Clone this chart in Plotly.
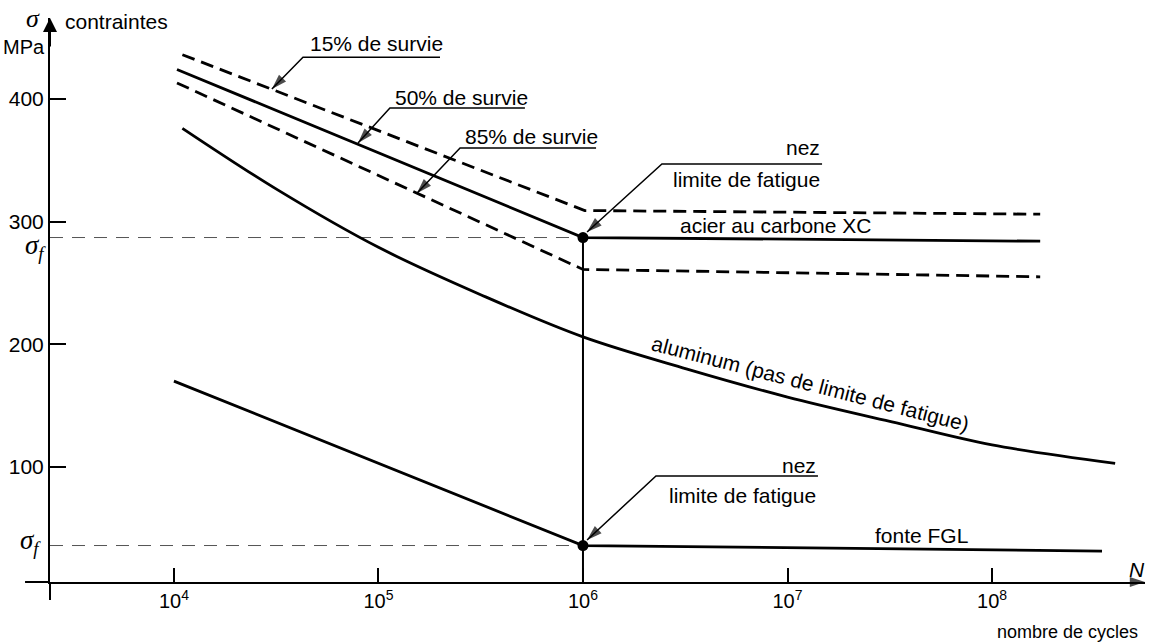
import math
import plotly.graph_objects as go

# ---------------- data ----------------
# steel XC, three survival probabilities (N cycles, stress MPa)
N_50 = [1.035e4, 1.0e6, 1.72e8]
S_50 = [424, 287, 284]
N_15 = [1.10e4, 1.02e6, 1.72e8]
S_15 = [436, 309, 306]
N_85 = [1.035e4, 1.0e6, 1.72e8]
S_85 = [413, 261, 255]
# aluminium (no fatigue limit)
N_al = [1.1e4, 3.2e4, 1.0e5, 3.2e5, 1.0e6, 3.2e6, 1.0e7, 3.2e7, 1.0e8, 4.0e8]
S_al = [376, 326, 279, 240, 206, 180, 157, 137, 118, 103]
# grey cast iron FGL
N_fgl = [1.0e4, 1.0e6, 3.45e8]
S_fgl = [170, 36, 31.5]
# fatigue limits (knees)
N_knee = 1.0e6
SIGMA_F_STEEL = 287
SIGMA_F_FGL = 36

x_ticks = [1e4, 1e5, 1e6, 1e7, 1e8]
x_tick_text = ["10<sup>4</sup>", "10<sup>5</sup>", "10<sup>6</sup>", "10<sup>7</sup>", "10<sup>8</sup>"]
y_ticks = [100, 200, 300, 400]
y_tick_text = ["100", "200", "300", "400"]

# ---------------- style ----------------
FONT = "Liberation Sans Narrow, Arial Narrow, Liberation Sans, sans-serif"
SERIF = "Liberation Serif, DejaVu Serif, serif"
FS = 21
BLACK = "#000000"
LW = 2.8
DASH = "13px,7px"

X_RANGE = [3.394, 8.748]   # log10 N
Y_RANGE = [6.28, 465.9]

fig = go.Figure()

def line(xs, ys, width=LW, dash=None, color=BLACK, shape="linear"):
    fig.add_trace(go.Scatter(
        x=xs, y=ys, mode="lines",
        line=dict(color=color, width=width, dash=dash, shape=shape),
        hoverinfo="skip", showlegend=False))

def arrow_head(xs, ys, size, angle=None):
    """filled arrow head whose tip sits on the last point of xs/ys"""
    marker = dict(symbol="arrow", color=BLACK, size=[0] * (len(xs) - 1) + [size],
                  line=dict(width=0))
    if angle is None:
        marker["angleref"] = "previous"
    else:
        marker["angle"] = angle
    fig.add_trace(go.Scatter(x=xs, y=ys, mode="markers", marker=marker, cliponaxis=False,
                             hoverinfo="skip", showlegend=False))

x_axis_start = 10 ** X_RANGE[0]
x_axis_end = 10 ** X_RANGE[1]

# thin dashed sigma_f reference lines from the y axis
line([x_axis_start, N_knee], [SIGMA_F_STEEL, SIGMA_F_STEEL], width=1, dash="13px,9px", color="#555555")
line([x_axis_start, N_knee], [SIGMA_F_FGL, SIGMA_F_FGL], width=1, dash="13px,9px", color="#555555")

# vertical line at 10^6
line([N_knee, N_knee], [Y_RANGE[0], SIGMA_F_STEEL], width=2)

# curves
line(N_15, S_15, dash=DASH)
line(N_50, S_50)
line(N_85, S_85, dash=DASH)
line(N_al, S_al, shape="spline")
line(N_fgl, S_fgl)

# knee dots
fig.add_trace(go.Scatter(
    x=[N_knee, N_knee], y=[SIGMA_F_STEEL, SIGMA_F_FGL], mode="markers",
    marker=dict(color=BLACK, size=11), hoverinfo="skip", showlegend=False))

# x axis arrow head
arrow_head([x_axis_end], [Y_RANGE[0]], 16, angle=90)

# ---------------- leader labels ----------------
annotations = []

def leader(text_lines, x_text, under_x0, under_x1, under_y, tip_x, tip_y, align="left"):
    """underline from under_x0..under_x1 at under_y, diagonal from the underline start to the tip."""
    line([under_x1, under_x0, tip_x], [under_y, under_y, tip_y], width=1.5)
    arrow_head([under_x0, tip_x], [under_y, tip_y], 16)
    for t, ty in text_lines:
        annotations.append(dict(
            x=math.log10(x_text), y=ty, xref="x", yref="y", text=t,
            showarrow=False, xanchor=align, yanchor="middle",
            font=dict(family=FONT, size=FS, color=BLACK)))

leader([("15% de survie", 445)], 10 ** 4.655, 10 ** 4.631, 10 ** 5.301, 434, 10 ** 4.479, 408)
leader([("50% de survie", 401)], 10 ** 5.071, 10 ** 5.056, 10 ** 5.716, 392.6, 10 ** 4.90, 364)
leader([("85% de survie", 369)], 10 ** 5.413, 10 ** 5.399, 10 ** 6.064, 360, 10 ** 5.188, 323)

leader([("nez", 360), ("limite de fatigue", 334)], 10 ** 7.169,
       10 ** 6.386, 10 ** 7.169, 347, 10 ** 6.02, 291.5, align="right")
leader([("nez", 101.6), ("limite de fatigue", 77)], 10 ** 7.149,
       10 ** 6.357, 10 ** 7.149, 92.7, 10 ** 6.02, 40.5, align="right")

annotations.append(dict(x=6.465, y=297, xref="x", yref="y", text="acier au carbone XC",
                        showarrow=False, xanchor="left", yanchor="middle",
                        font=dict(family=FONT, size=FS, color=BLACK)))
annotations.append(dict(x=7.418, y=44, xref="x", yref="y", text="fonte FGL",
                        showarrow=False, xanchor="left", yanchor="middle",
                        font=dict(family=FONT, size=FS, color=BLACK)))
annotations.append(dict(x=7.11, y=168, xref="x", yref="y",
                        text="aluminum (pas de limite de fatigue)", textangle=14.5,
                        showarrow=False, xanchor="center", yanchor="middle",
                        font=dict(family=FONT, size=FS, color=BLACK)))

# axis titles / sigma_f labels
annotations += [
    dict(x=-0.0155, y=1.0, xref="paper", yref="paper", text="<i>σ</i>", showarrow=False,
         xanchor="center", yanchor="middle", font=dict(family=SERIF, size=26, color=BLACK)),
    dict(x=0.0119, y=0.993, xref="paper", yref="paper", text="contraintes", showarrow=False,
         xanchor="left", yanchor="middle", font=dict(family=FONT, size=FS, color=BLACK)),
    dict(x=-0.0027, y=0.9486, xref="paper", yref="paper", text="MPa", showarrow=False,
         xanchor="right", yanchor="middle", font=dict(family=FONT, size=20, color=BLACK)),
    dict(x=-0.002, y=279, xref="paper", yref="y", text="<i>σ<sub>f</sub></i>", showarrow=False,
         xanchor="right", yanchor="middle", font=dict(family=SERIF, size=27, color=BLACK)),
    dict(x=-0.006, y=39, xref="paper", yref="y", text="<i>σ<sub>f</sub></i>", showarrow=False,
         xanchor="right", yanchor="middle", font=dict(family=SERIF, size=27, color=BLACK)),
    dict(x=0.9927, y=0.0213, xref="paper", yref="paper", text="<i>N</i>", showarrow=False,
         xanchor="center", yanchor="middle", font=dict(family=FONT, size=FS, color=BLACK)),
    dict(x=0.9954, y=-0.0887, xref="paper", yref="paper", text="nombre de cycles", showarrow=False,
         xanchor="right", yanchor="middle", font=dict(family=FONT, size=18, color=BLACK)),
    # y axis arrow head
    dict(x=0, y=1.0, xref="paper", yref="paper", ax=0, ay=30, text="", showarrow=True,
         arrowhead=2, arrowsize=1.4, arrowwidth=2, arrowcolor=BLACK, standoff=0),
]

shapes = [
    # axis extensions beyond the origin
    dict(type="line", xref="paper", yref="paper", x0=-0.0228, x1=0, y0=0, y1=0,
         line=dict(color=BLACK, width=2)),
    dict(type="line", xref="paper", yref="paper", x0=0, x1=0, y0=-0.032, y1=0,
         line=dict(color=BLACK, width=2)),
]

fig.update_layout(
    width=1149, height=644,
    margin=dict(l=50, r=4, t=18, b=62, autoexpand=False),
    paper_bgcolor="white", plot_bgcolor="white",
    annotations=annotations, shapes=shapes,
    showlegend=False,
    xaxis=dict(type="log", range=X_RANGE, showgrid=False, zeroline=False, automargin=False,
               showline=True, linecolor=BLACK, linewidth=2,
               ticks="inside", ticklen=14, tickwidth=1.5, tickcolor=BLACK,
               tickvals=x_ticks, ticktext=x_tick_text,
               tickfont=dict(family=FONT, size=20, color=BLACK)),
    yaxis=dict(range=Y_RANGE, showgrid=False, zeroline=False, automargin=False,
               showline=True, linecolor=BLACK, linewidth=2,
               ticks="inside", ticklen=16, tickwidth=2, tickcolor=BLACK,
               tickvals=y_ticks, ticktext=y_tick_text,
               tickfont=dict(family=FONT, size=21, color=BLACK)),
)

# remove the default page margin so the 1149x644 figure fills the window exactly
fig.write_html("out.html", config={"displayModeBar": False},
               post_script="document.body.style.margin='0';document.body.style.overflow='hidden';")
